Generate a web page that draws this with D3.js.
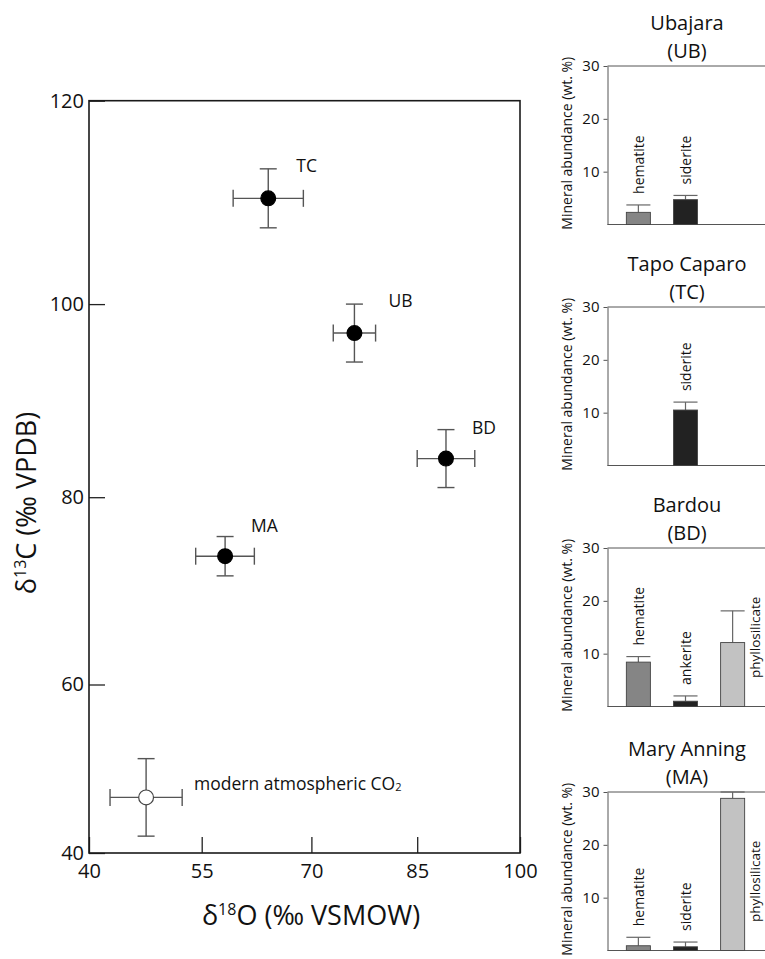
<!DOCTYPE html>
<html>
<head>
<meta charset="utf-8">
<script src="https://cdn.jsdelivr.net/npm/d3@7"></script>
<style>
  body { margin: 0; background: #fff; }
  svg { display: block; font-family: 'Open Sans', sans-serif; }
</style>
</head>
<body>
<svg id="chart" width="765" height="959"></svg>
<script>
// scatter data (d18O vs d13C), last one is the open symbol
const sites = ['TC', 'UB', 'BD', 'MA', 'modern']
const d18O = [64.1, 76.1, 89.2, 58.2, 47.6]
const d18OErr = [4.8, 3.0, 4.2, 4.0, 4.8]
const d13C = [110.4, 97.0, 84.0, 73.7, 46.6]
const d13CErr = [2.9, 3.0, 3.0, 2.1, 4.6]
const xTicks = [40, 55, 70, 85, 100]
const yTicks = [40, 60, 80, 100, 120]

// mineral abundance panels (wt. %)
const panelNames = ['Ubajara', 'Tapo Caparo', 'Bardou', 'Mary Anning']
const panelCodes = ['UB', 'TC', 'BD', 'MA']
const ubMinerals = ['hematite', 'siderite']
const ubValues = [2.3, 4.7]
const ubErrors = [1.4, 0.8]
const tcMinerals = ['siderite']
const tcValues = [10.5]
const tcErrors = [1.5]
const bdMinerals = ['hematite', 'ankerite', 'phyllosilicate']
const bdValues = [8.4, 1.0, 12.1]
const bdErrors = [1.05, 1.0, 6.0]
const maMinerals = ['hematite', 'siderite', 'phyllosilicate']
const maValues = [0.9, 0.7, 28.8]
const maErrors = [1.6, 0.9, 1.2]
const barTicks = [10, 20, 30]

// layout
const svg = d3.select('#chart')
const frame = { left: 89, right: 520, top: 100.7, bottom: 853 }
// the reference axis is not evenly spaced, so the scales go through each tick
const xTickPx = [89, 201.7, 311.4, 417.2, 520]
const yTickPx = [853, 684.5, 497.2, 304.1, 100.7]
const labelOffset = { TC: [28, -33], UB: [34, -33], BD: [26, -32], MA: [26, -31], modern: [48, -14] }

const x = d3.scaleLinear().domain(xTicks).range(xTickPx)
const y = d3.scaleLinear().domain(yTicks).range(yTickPx)

const main = svg.append('g')

// axes, ticks pointing inward
const xAxis = main.append('g')
  .attr('transform', 'translate(0,' + frame.bottom + ')')
  .call(d3.axisBottom(x).tickValues(xTicks).tickSize(-16).tickPadding(11).tickSizeOuter(0))
const yAxis = main.append('g')
  .attr('transform', 'translate(' + frame.left + ',0)')
  .call(d3.axisLeft(y).tickValues(yTicks).tickSize(-16).tickPadding(5).tickSizeOuter(0))

;[xAxis, yAxis].forEach(function (a) {
  a.select('.domain').remove()
  a.selectAll('line').attr('stroke', '#222').attr('stroke-width', 1.3)
  a.selectAll('text').attr('fill', '#111').style('font-size', '20px').style('font-family', 'Open Sans')
})

main.append('rect')
  .attr('x', frame.left).attr('y', frame.top)
  .attr('width', frame.right - frame.left).attr('height', frame.bottom - frame.top)
  .attr('fill', 'none').attr('stroke', '#1a1a1a').attr('stroke-width', 1.6)

// axis titles
const xTitle = main.append('text')
  .attr('x', 311).attr('y', 925)
  .attr('text-anchor', 'middle')
  .style('font-size', '27px').attr('fill', '#111')
xTitle.append('tspan').text('δ')
xTitle.append('tspan').text('18').style('font-size', '16px').attr('dy', -10)
xTitle.append('tspan').text('O (‰ VSMOW)').attr('dy', 10)

const yTitle = main.append('text')
  .attr('transform', 'translate(36,503) rotate(-90)')
  .attr('text-anchor', 'middle')
  .style('font-size', '27px').attr('fill', '#111')
yTitle.append('tspan').text('δ')
yTitle.append('tspan').text('13').style('font-size', '16px').attr('dy', -10)
yTitle.append('tspan').text('C (‰ VPDB)').attr('dy', 10)

// error bars + points
const pts = sites.map(function (s, i) {
  return { site: s, x: d18O[i], xe: d18OErr[i], y: d13C[i], ye: d13CErr[i] }
})
const cap = 8.5
const errColor = '#555'

const pg = main.selectAll('.pt').data(pts).enter().append('g').attr('class', 'pt')
pg.append('line')
  .attr('x1', d => x(d.x - d.xe)).attr('x2', d => x(d.x + d.xe))
  .attr('y1', d => y(d.y)).attr('y2', d => y(d.y))
pg.append('line')
  .attr('x1', d => x(d.x)).attr('x2', d => x(d.x))
  .attr('y1', d => y(d.y - d.ye)).attr('y2', d => y(d.y + d.ye))
pg.append('line')
  .attr('x1', d => x(d.x - d.xe)).attr('x2', d => x(d.x - d.xe))
  .attr('y1', d => y(d.y) - cap).attr('y2', d => y(d.y) + cap)
pg.append('line')
  .attr('x1', d => x(d.x + d.xe)).attr('x2', d => x(d.x + d.xe))
  .attr('y1', d => y(d.y) - cap).attr('y2', d => y(d.y) + cap)
pg.append('line')
  .attr('x1', d => x(d.x) - cap).attr('x2', d => x(d.x) + cap)
  .attr('y1', d => y(d.y + d.ye)).attr('y2', d => y(d.y + d.ye))
pg.append('line')
  .attr('x1', d => x(d.x) - cap).attr('x2', d => x(d.x) + cap)
  .attr('y1', d => y(d.y - d.ye)).attr('y2', d => y(d.y - d.ye))
pg.selectAll('line').attr('stroke', errColor).attr('stroke-width', 1.4)

pg.append('circle')
  .attr('cx', d => x(d.x)).attr('cy', d => y(d.y)).attr('r', 7.4)
  .attr('fill', d => d.site === 'modern' ? '#fff' : '#000')
  .attr('stroke', d => d.site === 'modern' ? '#444' : '#000')
  .attr('stroke-width', 1.2)

// point labels
const lab = pg.append('text')
  .attr('x', d => x(d.x) + labelOffset[d.site][0])
  .attr('y', d => y(d.y) + labelOffset[d.site][1])
  .attr('dominant-baseline', 'central')
  .style('font-size', '17.5px').attr('fill', '#111')
lab.filter(d => d.site !== 'modern').text(d => d.site)
const modernLab = lab.filter(d => d.site === 'modern')
modernLab.append('tspan').text('modern atmospheric CO')
modernLab.append('tspan').text('2').style('font-size', '11px').attr('dy', 3)

// ---- mineral abundance bar panels ----
const panels = [
  { name: panelNames[0], code: panelCodes[0], minerals: ubMinerals, values: ubValues, errors: ubErrors },
  { name: panelNames[1], code: panelCodes[1], minerals: tcMinerals, values: tcValues, errors: tcErrors },
  { name: panelNames[2], code: panelCodes[2], minerals: bdMinerals, values: bdValues, errors: bdErrors },
  { name: panelNames[3], code: panelCodes[3], minerals: maMinerals, values: maValues, errors: maErrors }
]
const panelTop = [66, 307, 548, 792]
const panelH = 158.5
const axisX = 607.5
const panelRight = 765
const slotOf = { hematite: 0, siderite: 1, ankerite: 1, phyllosilicate: 2 }
const mineralColor = { hematite: '#858585', siderite: '#222', ankerite: '#222', phyllosilicate: '#c2c2c2' }

const band = d3.scaleBand().domain([0, 1, 2])
  .range([axisX, axisX + 156]).paddingInner(0.49).paddingOuter(0.4)

panels.forEach(function (p, k) {
  const top = panelTop[k]
  const yb = d3.scaleLinear().domain([0, 30]).range([top + panelH, top])
  const g = svg.append('g')

  // titles
  g.append('text').attr('x', 687).attr('y', top - 44)
    .attr('text-anchor', 'middle').attr('dominant-baseline', 'central')
    .style('font-size', '20px').attr('fill', '#111').text(p.name)
  g.append('text').attr('x', 687).attr('y', top - 16)
    .attr('text-anchor', 'middle').attr('dominant-baseline', 'central')
    .style('font-size', '20px').attr('fill', '#111').text('(' + p.code + ')')

  // axis + frame lines
  const ax = g.append('g').attr('transform', 'translate(' + axisX + ',0)')
    .call(d3.axisLeft(yb).tickValues(barTicks).tickSize(4).tickPadding(4).tickSizeOuter(0))
  ax.select('.domain').attr('stroke', '#555')
  ax.selectAll('line').attr('stroke', '#555')
  ax.selectAll('text').style('font-size', '15px').style('font-family', 'Open Sans').attr('fill', '#111')
  g.append('line').attr('x1', axisX).attr('x2', panelRight)
    .attr('y1', yb(30)).attr('y2', yb(30)).attr('stroke', '#555')
  g.append('line').attr('x1', axisX).attr('x2', panelRight)
    .attr('y1', yb(0)).attr('y2', yb(0)).attr('stroke', '#555')

  g.append('text')
    .attr('transform', 'translate(566,' + (top + panelH / 2 - 2) + ') rotate(-90)')
    .attr('text-anchor', 'middle').attr('dominant-baseline', 'central')
    .style('font-size', '14px').attr('fill', '#111')
    .text('Mineral abundance (wt. %)')

  const bars = p.minerals.map(function (m, i) {
    return { mineral: m, v: p.values[i], e: p.errors[i] }
  })
  const bw = band.bandwidth()
  const bg = g.selectAll('.bar').data(bars).enter().append('g').attr('class', 'bar')

  bg.append('line')
    .attr('x1', d => band(slotOf[d.mineral]) + bw / 2).attr('x2', d => band(slotOf[d.mineral]) + bw / 2)
    .attr('y1', d => yb(d.v)).attr('y2', d => yb(d.v + d.e))
  bg.append('line')
    .attr('x1', d => band(slotOf[d.mineral])).attr('x2', d => band(slotOf[d.mineral]) + bw)
    .attr('y1', d => yb(d.v + d.e)).attr('y2', d => yb(d.v + d.e))
  bg.selectAll('line').attr('stroke', '#666').attr('stroke-width', 1.2)

  bg.append('rect')
    .attr('x', d => band(slotOf[d.mineral]))
    .attr('y', d => yb(d.v))
    .attr('width', bw)
    .attr('height', d => yb(0) - yb(d.v))
    .attr('fill', d => mineralColor[d.mineral])
    .attr('stroke', '#444').attr('stroke-width', 0.9)

  // rotated labels: above the error bar, phyllosilicate beside its bar
  bg.append('text')
    .attr('transform', function (d) {
      if (d.mineral === 'phyllosilicate') {
        return 'translate(' + (band(2) + bw + 10.5) + ',' + yb(5.4) + ') rotate(-90)'
      }
      return 'translate(' + (band(slotOf[d.mineral]) + bw / 2) + ',' + (yb(d.v + d.e) - 11) + ') rotate(-90)'
    })
    .attr('dominant-baseline', 'central')
    .style('font-size', d => d.mineral === 'phyllosilicate' ? '13.5px' : '14px')
    .attr('fill', '#111')
    .text(d => d.mineral)
})
</script>
</body>
</html>
